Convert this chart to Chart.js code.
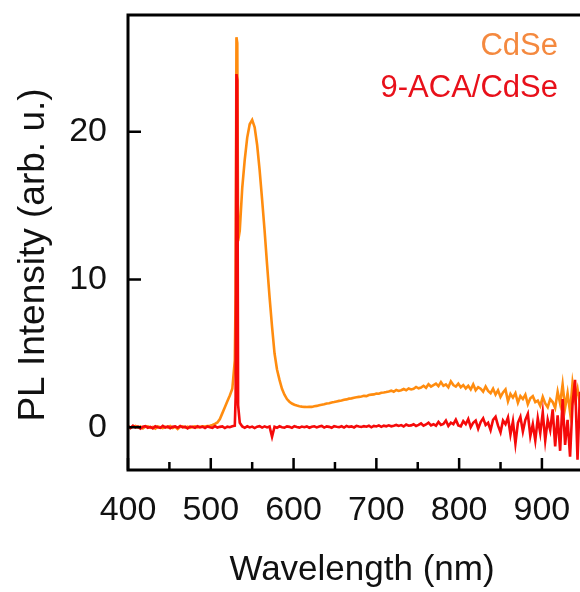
<!DOCTYPE html>
<html>
<head>
<meta charset="utf-8">
<script src="https://cdn.jsdelivr.net/npm/chart.js@4/dist/chart.umd.min.js"></script>
<style>
  html, body { margin: 0; padding: 0; background: #fff; overflow: hidden; }
  #wrap { width: 580px; height: 592px; }
</style>
</head>
<body>
<div id="wrap"><canvas id="c" width="580" height="592"></canvas></div>
<script>
// ---- data ----
const wavelengths = [
  400,403,406,409,412,415,418,421,424,427,
  430,433,436,439,442,445,448,451,454,457,
  460,463,466,469,472,475,478,481,484,487,
  490,493,496,499,502,505,508,511,514,517,
  520,523,526,529,
  530,531,532,533,
  535,538,541,544,547,550,553,556,559,562,
  565,568,571,574,577,580,583,586,589,592,
  595,598,601,604,607,610,613,616,619,622,
  625,628,631,634,637,640,643,646,649,652,
  655,658,661,664,667,670,673,676,679,682,
  685,688,691,694,697,700,703,706,709,712,
  715,718,721,724,727,730,733,736,739,742,
  745,748,751,754,757,760,763,766,769,772,
  775,778,781,784,787,790,793,796,799,802,
  805,808,811,814,817,820,823,826,829,832,
  835,838,841,844,847,850,853,856,859,862,
  865,868,871,874,877,880,883,886,889,892,
  895,898,901,904,907,910,913,916,919,922,
  925,928,931,934,937,940,943,946
];
const cdse = [
  0.05,-0.05,0.02,0.08,-0.03,0.04,-0.08,0.03,0.06,-0.04,
  0.02,-0.1,0.05,0.0,-0.06,0.04,-0.02,0.07,-0.05,0.03,
  -0.12,0.02,0.05,-0.03,0.04,-0.05,0.02,0.06,-0.02,0.03,
  0.05,0.04,0.08,0.1,0.15,0.22,0.32,0.55,0.95,1.35,
  1.75,2.15,2.6,4.5,
  9.0,26.4,26.0,12.6,
  13.3,16.2,18.1,19.6,20.5,20.8,20.3,19.1,17.4,15.4,
  13.3,11.0,8.8,6.8,5.0,3.9,3.2,2.6,2.2,1.9,
  1.72,1.6,1.52,1.46,1.42,1.39,1.37,1.36,1.38,1.37,
  1.42,1.44,1.49,1.52,1.55,1.6,1.62,1.67,1.7,1.74,
  1.78,1.8,1.86,1.88,1.93,1.95,1.99,2.02,2.05,2.08,
  2.12,2.1,2.18,2.2,2.22,2.28,2.26,2.33,2.35,2.38,
  2.42,2.47,2.4,2.52,2.45,2.5,2.58,2.5,2.62,2.55,
  2.6,2.72,2.63,2.68,2.8,2.66,2.9,2.75,2.85,2.95,
  2.78,3.05,2.8,2.9,2.7,3.1,2.85,2.75,2.95,2.7,
  2.85,2.62,2.8,2.55,2.9,2.5,2.7,2.6,2.4,2.75,
  2.45,2.3,2.6,2.2,2.5,2.05,2.35,2.55,1.75,2.25,
  2.0,2.3,1.65,2.1,1.9,2.2,1.55,1.95,2.1,1.7,
  1.8,1.45,2.05,1.6,1.35,1.9,1.7,1.3,2.4,1.6,
  2.9,1.3,2.3,1.0,3.0,1.9,2.6,1.5
];
const acaCdse = [
  0.08,-0.06,0.1,-0.02,0.05,-0.1,0.03,0.07,-0.04,0.02,
  -0.08,0.06,0.0,-0.05,0.09,-0.03,0.04,-0.07,0.02,0.05,
  -0.04,0.08,-0.02,0.03,-0.09,0.04,0.01,-0.05,0.06,-0.02,
  0.03,-0.06,0.05,0.0,-0.04,0.07,-0.03,0.02,0.05,-0.06,
  0.03,0.0,0.06,0.1,
  2.0,23.9,23.5,1.5,
  0.3,0.05,-0.04,0.06,-0.02,0.04,-0.06,0.03,0.07,-0.03,
  0.05,-0.02,0.04,-0.65,0.03,-0.04,0.06,0.0,-0.03,0.05,
  0.02,-0.05,0.06,0.01,-0.03,0.04,0.0,0.05,-0.04,0.03,
  0.06,-0.02,0.04,0.08,-0.03,0.05,0.02,-0.04,0.07,0.03,
  0.0,0.06,-0.03,0.08,0.02,0.05,-0.02,0.09,0.04,0.01,
  0.07,0.03,0.1,-0.01,0.08,0.05,0.12,0.02,0.1,0.06,
  0.12,0.06,0.1,0.15,0.08,0.14,0.05,0.18,0.1,0.12,
  0.2,0.08,0.15,0.25,0.1,0.18,0.3,0.12,0.2,0.1,
  0.35,0.15,0.22,0.45,0.08,0.3,0.2,0.5,0.12,0.05,
  0.4,0.2,0.55,0.0,0.3,0.45,-0.1,0.35,0.6,0.15,
  0.3,-0.2,0.5,0.7,0.1,-0.35,0.45,0.2,0.65,-0.5,
  0.4,-1.1,0.3,0.7,-0.3,0.5,0.9,-0.6,0.2,-0.9,
  0.6,-0.4,1.0,-0.9,0.5,-0.2,1.2,-1.3,0.8,-1.6,
  1.9,-1.2,0.5,-2.0,1.6,3.2,-2.2,2.4
];
const seriesLabels = ['CdSe', '9-ACA/CdSe'];
const yTickLabels = [0, 10, 20];
const xTickLabels = [400, 500, 600, 700, 800, 900];
const xTitle = 'Wavelength (nm)';
const yTitle = 'PL Intensity (arb. u.)';

// ---- styles ----
const FONT = '"Liberation Sans", Arial, Helvetica, sans-serif';
const lineColors = ['#FF8C0F', '#F50A0A'];
const legendColors = ['#F4893F', '#E8101A'];

const toPts = arr => arr.map((v, i) => ({ x: wavelengths[i], y: v }));

const framePlugin = {
  id: 'frame',
  afterDatasetsDraw(chart) {
    const { ctx, chartArea, scales } = chart;
    const { left, top, right, bottom } = chartArea;
    const x = scales.x, y = scales.y;
    ctx.save();
    ctx.strokeStyle = '#000';
    ctx.lineCap = 'butt';
    ctx.lineWidth = 3;
    ctx.beginPath();
    ctx.moveTo(right + 10, top);
    ctx.lineTo(left, top);
    ctx.lineTo(left, bottom);
    ctx.lineTo(right + 10, bottom);
    ctx.stroke();
    ctx.lineWidth = 2.5;
    ctx.beginPath();
    x.ticks.forEach(t => {
      const px = x.getPixelForValue(t.value);
      const len = (t.value % 100 === 0) ? 12 : 8;
      ctx.moveTo(px, bottom);
      ctx.lineTo(px, bottom - len);
    });
    y.ticks.forEach(t => {
      if (!yTickLabels.includes(t.value)) return;
      const py = y.getPixelForValue(t.value);
      ctx.moveTo(left, py);
      ctx.lineTo(left + 13, py);
    });
    ctx.stroke();
    // in-plot legend
    ctx.font = '31px ' + FONT;
    ctx.textAlign = 'right';
    ctx.textBaseline = 'alphabetic';
    chart.data.datasets.forEach((ds, i) => {
      ctx.fillStyle = legendColors[i];
      ctx.fillText(ds.label, 558, 55 + i * 42);
    });
    // x axis title
    ctx.font = '35px ' + FONT;
    ctx.fillStyle = '#111';
    ctx.textAlign = 'center';
    ctx.fillText(xTitle, 362, 580);
    // y axis title
    ctx.translate(34, 255);
    ctx.rotate(-Math.PI / 2);
    ctx.font = '37px ' + FONT;
    ctx.textBaseline = 'middle';
    ctx.fillText(yTitle, 0, 0);
    ctx.restore();
  }
};

new Chart(document.getElementById('c'), {
  type: 'line',
  data: {
    datasets: [
      { label: seriesLabels[0], data: toPts(cdse), borderColor: lineColors[0], borderWidth: 2.6, pointRadius: 0, tension: 0, order: 1 },
      { label: seriesLabels[1], data: toPts(acaCdse), borderColor: lineColors[1], borderWidth: 2.6, pointRadius: 0, tension: 0, order: 0 }
    ]
  },
  options: {
    responsive: false,
    animation: false,
    devicePixelRatio: 1,
    layout: { padding: { top: 15, right: 0, left: 0, bottom: 0 } },
    plugins: { legend: { display: false }, tooltip: { enabled: false } },
    scales: {
      x: {
        type: 'linear',
        min: 400, max: 946,
        grid: { display: false, drawTicks: false },
        border: { display: false },
        ticks: {
          stepSize: 50, includeBounds: false, autoSkip: false, maxRotation: 0,
          padding: 20, color: '#111',
          font: { family: FONT, size: 34 },
          callback: v => xTickLabels.includes(v) ? String(v) : ''
        },
        title: { display: false },
        afterFit: s => { s.height = 122; s.paddingLeft = 0; s.paddingRight = 0; }
      },
      y: {
        min: -2.9, max: 27.9,
        grid: { display: false, drawTicks: false },
        border: { display: false },
        ticks: {
          stepSize: 10, includeBounds: false, padding: 21, color: '#111',
          font: { family: FONT, size: 34 },
          callback: v => yTickLabels.includes(v) ? String(v) : ''
        },
        title: { display: false },
        afterFit: s => { s.width = 128; s.paddingTop = 0; s.paddingBottom = 0; }
      }
    }
  },
  plugins: [framePlugin]
});
</script>
</body>
</html>
